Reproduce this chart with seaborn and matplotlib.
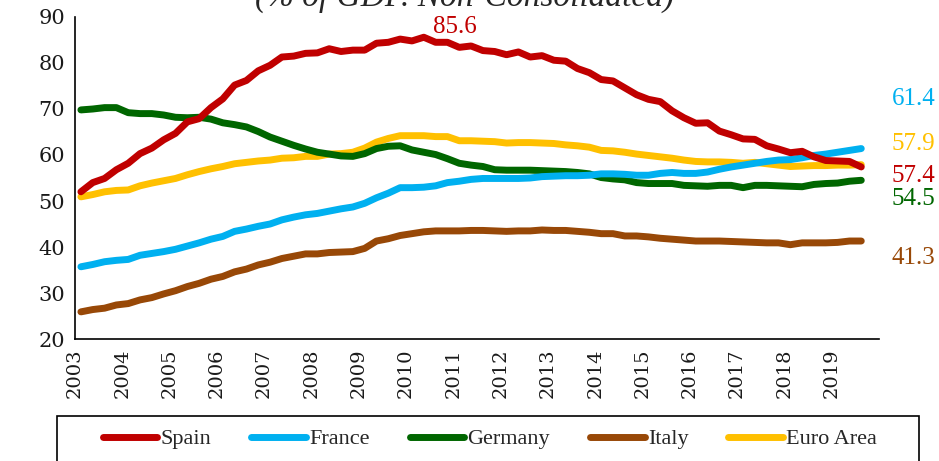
import numpy as np
import pandas as pd
import matplotlib
matplotlib.use("Agg")
import matplotlib.pyplot as plt
from matplotlib.lines import Line2D
from matplotlib.patches import Rectangle
import seaborn as sns

# Household debt, quarterly, 2003Q1 - 2019Q3 (% of GDP, non-consolidated)
first_year = 2003
spain = [52.0, 54.0, 54.9, 56.8, 58.2, 60.3, 61.5, 63.3, 64.7, 67.2, 67.9, 70.3,
         72.2, 75.2, 76.2, 78.3, 79.5, 81.3, 81.5, 82.1, 82.2, 83.1, 82.5, 82.8,
         82.8, 84.3, 84.5, 85.2, 84.8, 85.6, 84.5, 84.5, 83.4, 83.7, 82.7, 82.5,
         81.8, 82.4, 81.3, 81.6, 80.6, 80.4, 78.8, 77.9, 76.4, 76.1, 74.6, 73.1,
         72.1, 71.6, 69.6, 68.1, 66.9, 67.0, 65.2, 64.4, 63.5, 63.4, 62.0, 61.3,
         60.5, 60.8, 59.6, 58.8, 58.7, 58.6, 57.4]
france = [35.7, 36.2, 36.8, 37.1, 37.3, 38.2, 38.6, 39.0, 39.5, 40.2, 40.9, 41.7,
          42.3, 43.4, 43.9, 44.5, 45.0, 45.9, 46.5, 47.0, 47.3, 47.8, 48.3, 48.7,
          49.5, 50.7, 51.7, 52.9, 52.9, 53.0, 53.3, 54.0, 54.3, 54.7, 54.9, 54.9,
          54.9, 54.9, 55.0, 55.3, 55.4, 55.5, 55.5, 55.6, 55.9, 55.9, 55.8, 55.6,
          55.6, 56.0, 56.2, 56.0, 56.0, 56.3, 56.9, 57.4, 57.8, 58.2, 58.6, 58.9,
          59.0, 59.4, 59.9, 60.2, 60.6, 61.0, 61.4]
germany = [69.8, 70.0, 70.3, 70.3, 69.2, 69.0, 69.0, 68.7, 68.2, 68.1, 68.2, 67.8,
           67.0, 66.6, 66.1, 65.1, 63.9, 63.0, 62.1, 61.3, 60.6, 60.2, 59.8, 59.7,
           60.3, 61.4, 61.9, 62.0, 61.1, 60.6, 60.1, 59.2, 58.2, 57.8, 57.5, 56.8,
           56.7, 56.7, 56.7, 56.6, 56.5, 56.4, 56.2, 55.9, 55.1, 54.8, 54.6, 54.0,
           53.8, 53.8, 53.8, 53.4, 53.3, 53.2, 53.4, 53.4, 52.9, 53.4, 53.4, 53.3,
           53.2, 53.1, 53.6, 53.8, 53.9, 54.3, 54.5]
italy = [25.9, 26.4, 26.7, 27.4, 27.7, 28.5, 29.0, 29.8, 30.5, 31.4, 32.1, 33.0,
         33.6, 34.6, 35.2, 36.1, 36.7, 37.5, 38.0, 38.5, 38.5, 38.8, 38.9, 39.0,
         39.7, 41.3, 41.8, 42.5, 42.9, 43.3, 43.5, 43.5, 43.5, 43.6, 43.6, 43.5,
         43.4, 43.5, 43.5, 43.7, 43.6, 43.6, 43.4, 43.2, 42.9, 42.9, 42.4, 42.4,
         42.2, 41.9, 41.7, 41.5, 41.3, 41.3, 41.3, 41.2, 41.1, 41.0, 40.9, 40.9,
         40.5, 40.9, 40.9, 40.9, 41.0, 41.3, 41.3]
euro_area = [50.9, 51.4, 52.0, 52.3, 52.4, 53.3, 53.9, 54.4, 54.9, 55.7, 56.4, 57.0,
             57.5, 58.1, 58.4, 58.7, 58.9, 59.3, 59.4, 59.7, 59.7, 60.2, 60.3, 60.6,
             61.5, 62.8, 63.6, 64.2, 64.2, 64.2, 64.0, 64.0, 63.1, 63.1, 63.0, 62.9,
             62.6, 62.7, 62.7, 62.6, 62.5, 62.2, 62.0, 61.7, 61.0, 60.9, 60.6, 60.2,
             59.9, 59.6, 59.3, 58.9, 58.6, 58.5, 58.5, 58.4, 58.2, 58.4, 58.1, 57.8,
             57.5, 57.6, 57.7, 57.7, 57.8, 57.8, 57.9]

countries = ["Spain", "France", "Germany", "Italy", "Euro Area"]
series = [spain, france, germany, italy, euro_area]
colors = ["#C00000", "#00B0F0", "#006600", "#984807", "#FFC000"]
year_ticks = list(range(2003, 2021))
year_labels = [str(y) for y in range(2003, 2020)] + [""]

# Vertical offset of each end-of-series value label from its last point
end_label_offsets = [-2.0, 10.8, -4.15, -3.7, 4.6]

n = len(spain)
dates = first_year + (np.arange(n) + 0.5) / 4.0
df = pd.concat(
    [pd.DataFrame({"date": dates, "value": vals, "country": name})
     for name, vals in zip(countries, series)],
    ignore_index=True,
)

sns.set_theme(style="white")
plt.rcParams["font.family"] = ["DejaVu Serif"]

W, H = 939, 461
fig = plt.figure(figsize=(W / 100, H / 100), dpi=100)
ax = fig.add_axes([75 / W, 1 - 339 / H, 804 / W, 322 / H])

# Draw in reverse order so Spain sits on top
for name, vals, col in reversed(list(zip(countries, series, colors))):
    sub = df[df["country"] == name]
    sns.lineplot(data=sub, x="date", y="value", color=col, linewidth=5,
                 solid_capstyle="round", ax=ax, legend=False)

ax.set_xlim(2003, 2020)
ax.set_ylim(20, 90)
ax.set_yticks(range(20, 91, 10))
ax.set_xticks(year_ticks)
ax.set_xticklabels(year_labels, rotation=90)
ax.set_xlabel("")
ax.set_ylabel("")
for side in ["top", "right"]:
    ax.spines[side].set_visible(False)
for side in ["left", "bottom"]:
    ax.spines[side].set_color("black")
    ax.spines[side].set_linewidth(1.2)
ax.tick_params(axis="both", direction="out", length=5, width=1.1, color="black",
               labelcolor="#1a1a1a")
ax.tick_params(axis="y", labelsize=15, pad=2)
ax.tick_params(axis="x", labelsize=14, pad=2)

# Peak value of Spain
peak_i = int(np.argmax(spain))
ax.text(dates[peak_i] + 0.65, spain[peak_i] + 2.2, f"{spain[peak_i]:.1f}",
        color=colors[0], fontsize=18, family="Liberation Serif",
        ha="center", va="center", clip_on=False)

# Latest values at the right edge
for vals, col, off in zip(series, colors, end_label_offsets):
    ax.text(2020.27, vals[-1] + off, f"{vals[-1]:.1f}", color=col, fontsize=18,
            family="Liberation Serif", ha="left", va="center", clip_on=False)

fig.text(465 / W, 1 - 6 / H, "(% of GDP. Non-Consolidated)", fontsize=24,
         style="italic", family="Liberation Serif", ha="center", va="baseline")

# Legend box running off the bottom edge
fig.patches.append(Rectangle((57 / W, -0.05), 862 / W, 1 - 416 / H + 0.05,
                             transform=fig.transFigure, fill=False,
                             edgecolor="black", linewidth=1.2))
handles = [Line2D([0], [0], color=c, linewidth=5, solid_capstyle="round")
           for c in colors]
fig.legend(handles, countries, loc="center",
           bbox_to_anchor=(490 / W, 1 - 439 / H), ncol=5, frameon=False,
           prop={"family": "Liberation Serif", "size": 16},
           handlelength=2.45, handletextpad=0.15, borderpad=0.0,
           borderaxespad=0.0, columnspacing=1.8)

fig.savefig("out.png", dpi=100)
